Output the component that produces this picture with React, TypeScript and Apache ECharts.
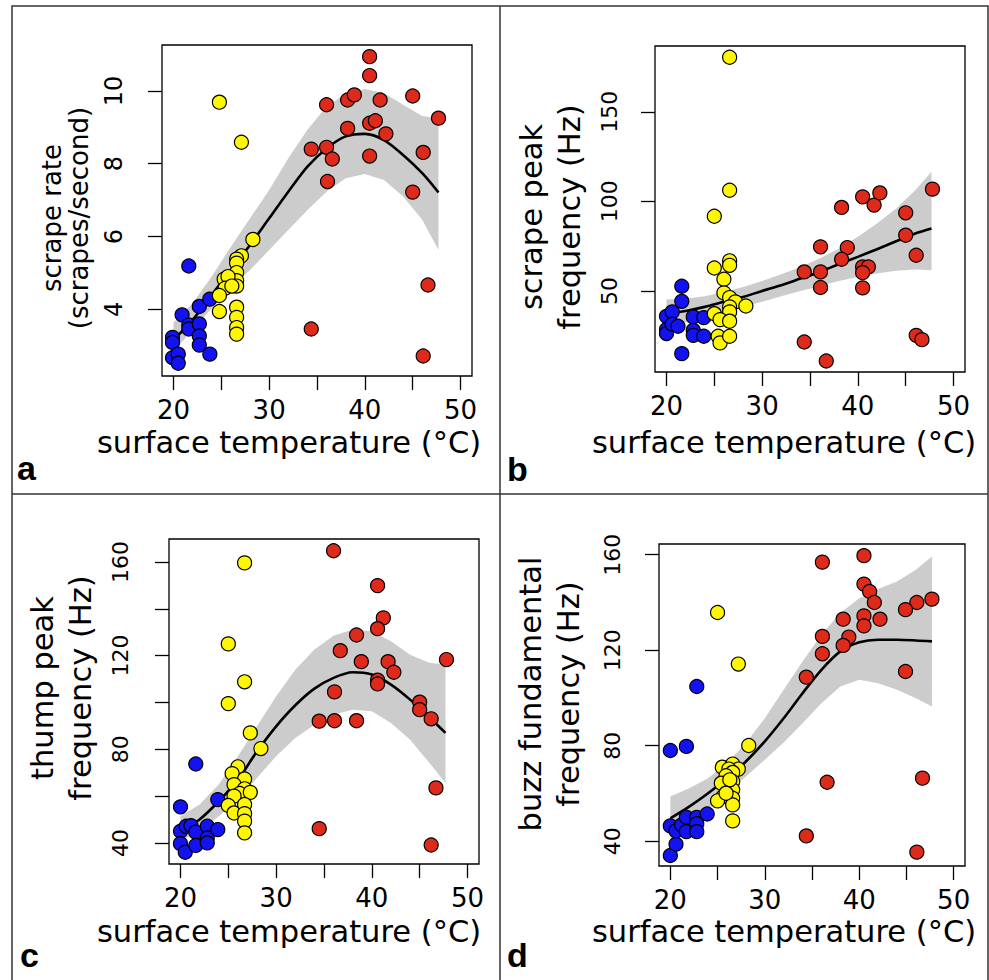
import React, { useEffect, useRef } from 'react';
import * as echarts from 'echarts';

const FONT = '"DejaVu Sans", sans-serif';
const BLUE = '#1212F2';
const YELLOW = '#FFF700';
const RED = '#DD2A1A';
const BAND = '#CCCCCC';

// temperatures at which the smooth fits were read
const fitT = [20, 22, 24, 26, 28, 30, 32, 34, 36, 38, 40, 42, 44, 46, 47.7];

// panel a: scrape rate
const aBlueT = [19.9, 19.9, 19.9, 20.5, 20.5, 20.9, 21.6, 21.6, 21.6, 22.7, 22.7, 22.7, 22.7, 23.8, 23.8];
const aBlueV = [3.23, 3.09, 2.67, 2.77, 2.52, 3.85, 3.57, 3.46, 5.19, 4.08, 3.6, 3.27, 3.02, 4.28, 2.77];
const aYellowT = [24.8, 27.1, 28.3, 27.1, 26.6, 26.6, 26.6, 26.6, 26.6, 25.3, 25.7, 25.4, 26.1, 24.8, 24.8, 26.6, 26.6, 26.6, 26.6];
const aYellowV = [9.69, 8.59, 5.92, 5.47, 5.38, 5.27, 5.01, 4.79, 4.64, 4.83, 4.9, 4.58, 4.64, 4.38, 3.94, 4.06, 3.78, 3.5, 3.32];
const aRedT = [34.4, 36.0, 36.0, 36.6, 36.1, 34.4, 38.2, 38.9, 38.2, 40.5, 40.5, 40.5, 41.1, 40.5, 41.6, 42.2, 45.0, 45.0, 46.1, 46.1, 46.6, 47.7];
const aRedV = [8.4, 9.62, 8.45, 8.13, 7.51, 3.46, 9.75, 9.89, 8.97, 10.94, 10.42, 9.11, 9.18, 8.21, 9.75, 8.82, 9.86, 7.22, 8.31, 2.72, 4.67, 9.25];
const aFit = [3.16, 3.71, 4.4, 5.08, 5.77, 6.5, 7.23, 7.92, 8.42, 8.75, 8.82, 8.65, 8.24, 7.74, 7.21];
const aUpper = [3.64, 4.17, 4.9, 5.72, 6.5, 7.28, 8.15, 8.93, 9.57, 9.92, 10.05, 9.94, 9.62, 9.31, 9.25];
const aLower = [2.84, 3.43, 4.03, 4.58, 5.08, 5.63, 6.18, 6.73, 7.23, 7.6, 7.72, 7.55, 7.1, 6.46, 5.63];

// panel b: scrape peak frequency
const bBlueT = [20.0, 20.0, 20.0, 20.6, 20.6, 21.2, 21.6, 21.6, 21.6, 22.8, 22.8, 22.8, 23.9, 23.9];
const bBlueV = [35.8, 28.4, 26.2, 38.3, 31.4, 30.3, 52.6, 44.2, 15.0, 35.5, 28.0, 25.2, 35.1, 24.7];
const bYellowT = [26.6, 26.6, 25.0, 25.0, 26.6, 26.6, 26.0, 26.0, 26.6, 27.2, 28.3, 26.6, 26.6, 25.0, 25.6, 26.6, 25.4, 25.6, 26.6];
const bYellowV = [180.4, 106.2, 91.7, 62.8, 66.8, 64.3, 56.5, 48.9, 46.3, 43.9, 41.6, 41.1, 38.3, 37.3, 34.0, 33.1, 24.7, 21.0, 24.7];
const bRedT = [34.4, 34.4, 36.1, 36.1, 36.1, 36.7, 38.3, 38.9, 38.3, 40.5, 40.5, 41.1, 40.5, 40.5, 41.7, 42.3, 45.0, 45.0, 46.1, 46.1, 46.7, 47.8];
const bRedV = [60.6, 21.5, 74.6, 60.6, 51.9, 10.9, 96.6, 74.2, 67.7, 102.5, 63.4, 63.4, 60.2, 51.7, 97.9, 104.7, 93.6, 81.1, 69.9, 25.2, 22.8, 106.8];
const bFit = [37.0, 38.8, 41.1, 43.9, 46.6, 50.0, 53.2, 56.9, 60.6, 64.9, 69.0, 73.3, 77.7, 82.0, 84.8];
const bUpper = [45.2, 45.7, 47.0, 49.4, 52.2, 55.6, 59.3, 63.4, 68.1, 73.6, 80.2, 87.6, 96.0, 106.2, 116.5];
const bLower = [30.8, 32.7, 35.5, 38.3, 41.1, 43.9, 47.0, 50.0, 52.6, 55.6, 57.8, 59.7, 61.2, 61.9, 61.5];

// panel c: thump peak frequency
const cBlueT = [20.0, 20.0, 20.0, 20.5, 20.6, 21.1, 21.6, 21.6, 21.6, 22.8, 22.8, 22.8, 23.9, 23.9];
const cBlueV = [55.4, 45.0, 39.7, 36.0, 47.1, 47.4, 44.6, 38.9, 73.7, 47.1, 42.1, 40.0, 58.5, 45.7];
const cYellowT = [26.7, 25.0, 26.7, 25.0, 27.3, 28.4, 26.0, 25.4, 26.7, 25.6, 26.7, 26.2, 27.3, 25.6, 25.0, 25.6, 26.7, 26.7, 26.7, 26.7];
const cYellowV = [159.6, 125.0, 108.8, 99.5, 87.0, 80.3, 72.5, 69.6, 67.3, 64.9, 63.1, 61.1, 61.6, 60.0, 56.0, 52.8, 56.4, 52.5, 49.3, 44.3];
const cRedT = [36.0, 40.6, 41.2, 40.6, 38.4, 36.7, 38.9, 41.7, 42.3, 40.6, 40.6, 36.1, 34.5, 36.1, 38.4, 45.0, 45.0, 46.2, 47.8, 46.7, 34.5, 46.2];
const cRedV = [164.8, 149.9, 136.1, 131.5, 128.8, 122.1, 117.4, 117.4, 112.9, 109.5, 107.9, 104.5, 92.0, 92.2, 92.2, 100.1, 96.9, 93.0, 118.3, 63.5, 46.1, 39.1];
const cFit = [45.0, 50.0, 57.8, 67.0, 79.1, 89.8, 98.8, 105.9, 110.5, 112.9, 111.9, 107.6, 101.2, 93.7, 87.0];
const cUpper = [51.4, 56.4, 64.9, 77.0, 89.8, 102.6, 114.0, 122.6, 128.5, 131.1, 130.4, 126.1, 120.4, 116.9, 116.2];
const cLower = [40.7, 45.0, 51.4, 58.5, 67.8, 77.0, 84.8, 90.5, 94.8, 96.9, 96.2, 91.2, 84.1, 74.2, 65.6];

// panel d: buzz fundamental frequency
const dBlueT = [20.0, 20.0, 20.0, 20.6, 20.6, 21.2, 21.7, 21.7, 21.7, 22.8, 22.8, 22.8, 22.8, 23.9];
const dBlueV = [78.0, 46.4, 34.0, 38.7, 44.3, 46.8, 79.7, 50.0, 44.0, 104.8, 50.0, 47.3, 44.0, 51.4];
const dYellowT = [25.0, 27.2, 28.3, 25.5, 26.6, 27.2, 26.2, 26.6, 25.9, 26.6, 25.4, 26.6, 25.6, 26.6, 25.0, 26.6, 26.6, 26.3, 25.9];
const dYellowV = [135.8, 114.2, 80.1, 71.0, 72.3, 70.2, 70.2, 68.8, 67.4, 65.0, 64.3, 61.5, 58.7, 58.0, 56.9, 55.2, 48.5, 65.7, 60.1];
const dRedT = [40.5, 36.1, 40.5, 41.1, 41.6, 47.7, 46.1, 44.9, 40.5, 38.3, 42.2, 40.5, 36.1, 38.9, 38.3, 36.1, 34.4, 44.9, 36.6, 46.7, 34.4, 46.1];
const dRedV = [159.6, 156.9, 147.7, 144.6, 140.0, 141.4, 140.0, 137.0, 134.4, 133.0, 133.0, 130.2, 125.8, 125.5, 122.0, 118.5, 108.7, 111.1, 64.7, 66.4, 42.2, 35.4];
const dFit = [49.6, 54.5, 60.1, 66.4, 73.4, 81.8, 91.5, 102.0, 111.8, 119.5, 123.3, 124.4, 124.4, 124.1, 123.7];
const dUpper = [58.7, 62.2, 66.4, 72.7, 81.1, 91.5, 103.4, 115.3, 126.5, 135.6, 141.8, 145.6, 148.8, 153.7, 159.3];
const dLower = [40.6, 46.1, 53.1, 60.1, 67.1, 74.1, 81.3, 89.4, 97.8, 104.8, 107.6, 106.2, 103.4, 99.9, 96.4];

// axis ticks / labels
const xTicks = [20, 25, 30, 35, 40, 45, 50];
const xLabels = [20, 30, 40, 50];
const aYTicks = [4, 6, 8, 10];
const bYTicks = [50, 100, 150];
const cYTicks = [40, 60, 80, 100, 120, 140, 160];
const cYLabels = [40, 80, 120, 160];
const dYTicks = [40, 80, 120, 160];

const xTitle = 'surface temperature (°C)';

const panels = [
  {
    letter: 'a', grid: { left: 162, top: 45, width: 310, height: 331 },
    yMin: 2.17, yMax: 11.26, yTicks: aYTicks, yLabels: aYTicks, yFont: 24, yMargin: 36,
    titles: ['scrape rate', '(scrapes/second)'], titleFont: 26, titleX: [52, 79], titleY: 218,
    xTitleX: 289, xTitleY: 457, letterX: 17, letterY: 485,
    blue: [aBlueT, aBlueV], yellow: [aYellowT, aYellowV], red: [aRedT, aRedV],
    fit: aFit, upper: aUpper, lower: aLower,
  },
  {
    letter: 'b', grid: { left: 655, top: 46, width: 310, height: 326 },
    yMin: 4.75, yMax: 186.7, yTicks: bYTicks, yLabels: bYTicks, yFont: 22, yMargin: 35,
    titles: ['scrape peak', 'frequency (Hz)'], titleFont: 30.5, titleX: [531, 569], titleY: 217,
    xTitleX: 784, xTitleY: 457, letterX: 507, letterY: 486,
    blue: [bBlueT, bBlueV], yellow: [bYellowT, bYellowV], red: [bRedT, bRedV],
    fit: bFit, upper: bUpper, lower: bLower,
  },
  {
    letter: 'c', grid: { left: 169, top: 539, width: 310, height: 325 },
    yMin: 31, yMax: 169.8, yTicks: cYTicks, yLabels: cYLabels, yFont: 22, yMargin: 38,
    titles: ['thump peak', 'frequency (Hz)'], titleFont: 30.5, titleX: [42, 80], titleY: 688,
    xTitleX: 289, xTitleY: 946.5, letterX: 20, letterY: 972,
    blue: [cBlueT, cBlueV], yellow: [cYellowT, cYellowV], red: [cRedT, cRedV],
    fit: cFit, upper: cUpper, lower: cLower,
  },
  {
    letter: 'd', grid: { left: 659, top: 544, width: 306, height: 322 },
    yMin: 29.6, yMax: 164.5, yTicks: dYTicks, yLabels: dYTicks, yFont: 22, yMargin: 36,
    titles: ['buzz fundamental', 'frequency (Hz)'], titleFont: 30.5, titleX: [530, 568], titleY: 694,
    xTitleX: 784, xTitleY: 946.5, letterX: 507, letterY: 972,
    blue: [dBlueT, dBlueV], yellow: [dYellowT, dYellowV], red: [dRedT, dRedV],
    fit: dFit, upper: dUpper, lower: dLower,
  },
];

function pairs(xs: number[], ys: number[]) {
  return xs.map((x, i) => [x, ys[i]]);
}

function buildOption() {
  const grid: any[] = [];
  const xAxis: any[] = [];
  const yAxis: any[] = [];
  const series: any[] = [];
  const graphic: any[] = [];

  panels.forEach((p, i) => {
    grid.push({ ...p.grid, show: true, borderColor: '#000', borderWidth: 1.3, backgroundColor: 'transparent' });
    xAxis.push({
      type: 'value', gridIndex: i, min: 18.8, max: 51.2,
      axisLine: { show: false },
      splitLine: { show: false },
      axisTick: { show: true, length: 14, lineStyle: { color: '#000', width: 1.3 }, customValues: xTicks },
      axisLabel: { customValues: xLabels, fontSize: 26, lineHeight: 26, fontFamily: FONT, color: '#000', margin: 21 },
    });
    yAxis.push({
      type: 'value', gridIndex: i, min: p.yMin, max: p.yMax,
      axisLine: { show: false },
      splitLine: { show: false },
      axisTick: { show: true, length: 14, lineStyle: { color: '#000', width: 1.3 }, customValues: p.yTicks },
      axisLabel: { customValues: p.yLabels, fontSize: p.yFont, fontFamily: FONT, color: '#000', margin: p.yMargin, rotate: 90 },
    });
    const upper = p.upper;
    const lower = p.lower;
    series.push({
      type: 'custom', xAxisIndex: i, yAxisIndex: i, silent: true, z: 1,
      data: [[fitT[0], lower[0]]],
      renderItem: (_params: any, api: any) => {
        const top = fitT.map((t, k) => api.coord([t, upper[k]]));
        const bottom = fitT.map((t, k) => api.coord([t, lower[k]])).reverse();
        return { type: 'polygon', shape: { points: top.concat(bottom) }, style: { fill: BAND, stroke: 'none' } };
      },
    });
    series.push({
      type: 'line', xAxisIndex: i, yAxisIndex: i, smooth: 0.3, symbol: 'none', silent: true, z: 2,
      lineStyle: { color: '#000', width: 2.6 },
      data: pairs(fitT, p.fit),
    });
    const groups: [number[][], string][] = [[p.blue, BLUE], [p.yellow, YELLOW], [p.red, RED]];
    groups.forEach(([g, col]) => {
      series.push({
        type: 'scatter', xAxisIndex: i, yAxisIndex: i, symbol: 'circle', symbolSize: 14, z: 3,
        itemStyle: { color: col, borderColor: '#000', borderWidth: 1.2, opacity: 1 },
        data: pairs(g[0], g[1]),
      });
    });

    p.titles.forEach((t, k) => {
      graphic.push({
        type: 'text', x: p.titleX[k], y: p.titleY, rotation: Math.PI / 2, silent: true,
        style: { text: t, fontSize: p.titleFont, fontFamily: FONT, fill: '#000', align: 'center', verticalAlign: 'middle', textAlign: 'center', textVerticalAlign: 'middle' },
      });
    });
    graphic.push({
      type: 'text', x: p.xTitleX, y: p.xTitleY, silent: true,
      style: { text: xTitle, fontSize: 30.5, lineHeight: 30, fontFamily: FONT, fill: '#000', align: 'center', verticalAlign: 'bottom', textAlign: 'center', textVerticalAlign: 'bottom' },
    });
    graphic.push({
      type: 'text', x: p.letterX, y: p.letterY, silent: true,
      style: { text: p.letter, fontSize: 34, fontWeight: 'bold', fontFamily: '"Liberation Sans", Arial, sans-serif', fill: '#000', align: 'left', verticalAlign: 'bottom', textAlign: 'left', textVerticalAlign: 'bottom' },
    });
  });

  graphic.push({ type: 'rect', silent: true, shape: { x: 12, y: 6, width: 976, height: 990 }, style: { fill: 'none', stroke: '#333', lineWidth: 1.5 } });
  graphic.push({ type: 'line', silent: true, shape: { x1: 500, y1: 6, x2: 500, y2: 990 }, style: { stroke: '#333', lineWidth: 1.5 } });
  graphic.push({ type: 'line', silent: true, shape: { x1: 12, y1: 494, x2: 988, y2: 494 }, style: { stroke: '#333', lineWidth: 1.5 } });

  return { animation: false, backgroundColor: '#fff', grid, xAxis, yAxis, series, graphic };
}

export default function App() {
  const ref = useRef<HTMLDivElement>(null);
  useEffect(() => {
    const chart = echarts.init(ref.current!, null, { renderer: 'svg' });
    chart.setOption(buildOption() as any);
    return () => chart.dispose();
  }, []);
  return <div ref={ref} style={{ position: 'fixed', left: 0, top: 0, width: 989, height: 980, background: '#fff' }} />;
}
